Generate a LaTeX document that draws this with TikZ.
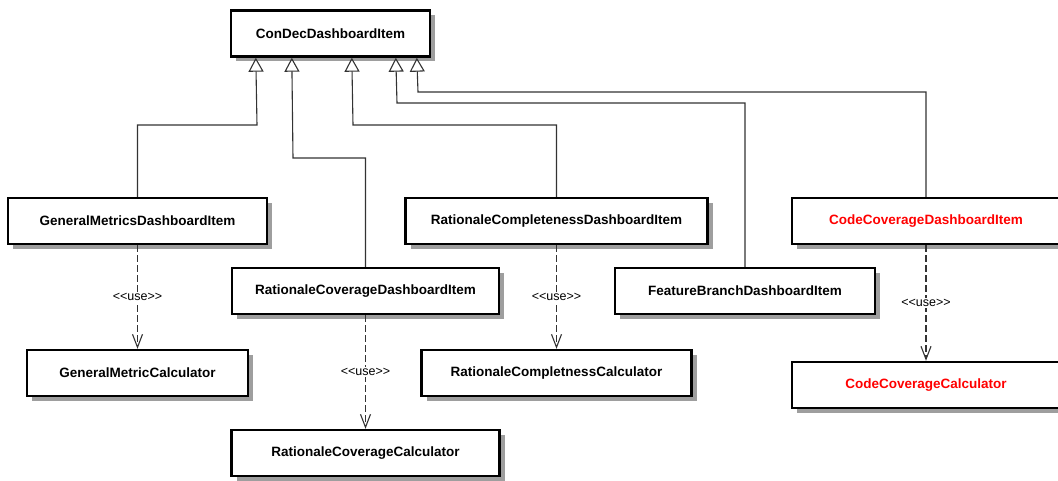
\documentclass[tikz,border=0pt]{standalone}
\usepackage{fontspec}
\setmainfont{Liberation Sans}
\usetikzlibrary{arrows.meta,shadows}
\begin{document}
\begin{tikzpicture}[x=1pt,y=-1pt,
  cls/.style={draw=black, line width=2.4pt, fill=white, minimum height=46pt, inner sep=0pt,
    font=\fontsize{13.5}{16}\selectfont\bfseries,
    drop shadow={shadow xshift=5pt, shadow yshift=-5pt, fill=black!38, opacity=1}},
  hot/.style={text=red},
  gen/.style={draw=black!80, line width=1.1pt,
    -{Triangle[open, length=14pt, width=15pt, line width=1.1pt]}},
  dep/.style={draw=black!80, line width=1.1pt, dash pattern=on 7pt off 3pt,
    -{Straight Barb[length=13pt, width=10pt, line width=1.1pt]}},
  use/.style={fill=white, inner sep=1.5pt, font=\fontsize{12.5}{14}\selectfont}
]
\clip (0,0) rectangle (1058,481);
\fill[white] (0,0) rectangle (1058,481);

% classes
\node[cls, minimum width=199pt] (top) at (330.5,33.5) {ConDecDashboardItem};
\node[cls, minimum width=259pt] (gm) at (137.5,221) {GeneralMetricsDashboardItem};
\node[cls, minimum width=302pt] (rcd) at (556.5,221) {RationaleCompletenessDashboardItem};
\node[cls, hot, minimum width=268pt] (ccd) at (926,221) {CodeCoverageDashboardItem};
\node[cls, minimum width=267pt] (rvd) at (365.5,291) {RationaleCoverageDashboardItem};
\node[cls, minimum width=260pt] (fbd) at (745,291) {FeatureBranchDashboardItem};
\node[cls, minimum width=221pt] (gmc) at (137.5,373) {GeneralMetricCalculator};
\node[cls, minimum width=270pt] (rcc) at (556.5,373) {RationaleCompletnessCalculator};
\node[cls, hot, minimum width=268pt] (ccc) at (926,385) {CodeCoverageCalculator};
\node[cls, minimum width=268pt] (rvc) at (365.5,453) {RationaleCoverageCalculator};

% generalizations
\draw[gen] (gm.north) |- (257,125) -- ([xshift=26pt]top.south west);
\draw[gen] (rvd.north) |- (293,158) -- ([xshift=62pt]top.south west);
\draw[gen] (rcd.north) |- (353,125) -- ([xshift=122pt]top.south west);
\draw[gen] (fbd.north) |- (397,103) -- ([xshift=166pt]top.south west);
\draw[gen] (ccd.north) |- (418,92) -- ([xshift=187pt]top.south west);

% usage dependencies
\draw[dep] (gm.south) -- node[use] {{<}{<}use{>}{>}} (gmc.north);
\draw[dep] (rvd.south) -- node[use] {{<}{<}use{>}{>}} (rvc.north);
\draw[dep] (rcd.south) -- node[use] {{<}{<}use{>}{>}} (rcc.north);
\draw[dep] (ccd.south) -- node[use] {{<}{<}use{>}{>}} (ccc.north);
\end{tikzpicture}
\end{document}
